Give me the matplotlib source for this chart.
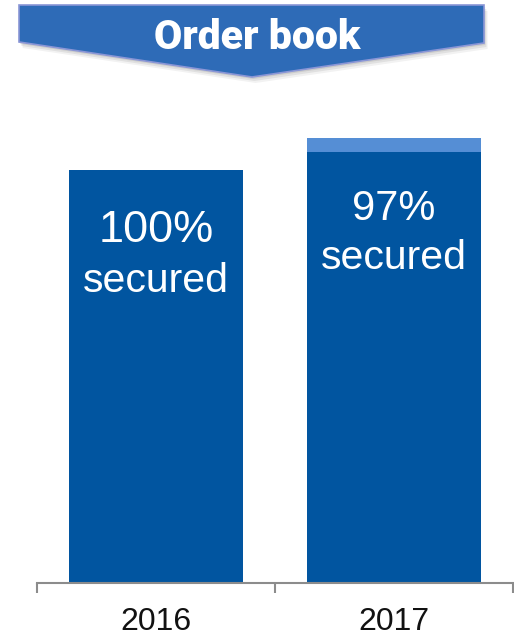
import matplotlib
matplotlib.use("Agg")
import matplotlib.pyplot as plt
from matplotlib.patches import Polygon

# ---- data ----
categories = ["2016", "2017"]
secured = [100.0, 104.4]        # secured part of order book (index, 2016 = 100)
unsecured = [0.0, 3.35]         # not yet secured
pct_labels = ["100%", "97%"]
sub_label = "secured"
title = "Order book"

# ---- styles ----
DARK = "#0155A0"
LIGHT = "#558ED5"
BANNER = "#2E6BB7"
pct_sizes = [32.5, 30]
pct_offsets = [-72, -68]        # baseline offset from bar top (pixels)
sub_offsets = [-122, -117]

W, H = 514, 637
fig = plt.figure(figsize=(W / 100, H / 100), dpi=100)

ax_top_px = 100
ax = fig.add_axes([37 / W, (H - 583) / H, 476 / W, (583 - ax_top_px) / H])
x = list(range(len(categories)))
ax.bar(x, secured, width=0.735, color=DARK, linewidth=0)
ax.bar(x, unsecured, bottom=secured, width=0.735, color=LIGHT, linewidth=0)
ax.set_xlim(-0.5, len(categories) - 0.5)
ax.set_ylim(0, secured[0] * (583 - ax_top_px) / (583 - 170))

for s in ["top", "right", "left"]:
    ax.spines[s].set_visible(False)
ax.spines["bottom"].set_color("#8C8C8C")
ax.spines["bottom"].set_linewidth(1.5)
ax.set_yticks([])
ax.set_xticks([i - 0.5 for i in range(len(categories) + 1)])
ax.set_xticklabels([])
ax.tick_params(axis="x", which="major", length=7.5, width=1.5, color="#8C8C8C", direction="out")
ax.set_xticks(x, minor=True)
ax.set_xticklabels(categories, minor=True, fontsize=23, family="Liberation Sans", color="#111111")
ax.tick_params(axis="x", which="minor", length=0, pad=17.5)

for i in range(len(categories)):
    top = secured[i]
    ax.annotate(pct_labels[i], xy=(i, top), xytext=(0, pct_offsets[i]), textcoords="offset pixels",
                ha="center", va="baseline", color="white", fontsize=pct_sizes[i],
                family="Liberation Sans")
    ax.annotate(sub_label, xy=(i, top), xytext=(0, sub_offsets[i]), textcoords="offset pixels",
                ha="center", va="baseline", color="white", fontsize=29.5,
                family="Liberation Sans")

# ---- banner overlay ----
ov = fig.add_axes([0, 0, 1, 1], zorder=5)
ov.set_xlim(0, W)
ov.set_ylim(H, 0)
ov.axis("off")
pts = [(19, 5), (484, 5), (484, 43), (252, 77), (19, 42)]
for k, a in enumerate([0.05, 0.07, 0.09]):
    d = 6 - 2 * k
    ov.add_patch(Polygon([(px + d * 0.6, py + d) for px, py in pts], closed=True,
                         facecolor="black", alpha=a, edgecolor="none"))
ov.add_patch(Polygon(pts, closed=True, facecolor=BANNER, edgecolor="#8A96D6", linewidth=1.2))
ov.text(257, 49, title, ha="center", va="baseline", color="white", fontsize=29.5,
        family="Roboto", fontweight="black")

fig.savefig("out.png", dpi=100)
